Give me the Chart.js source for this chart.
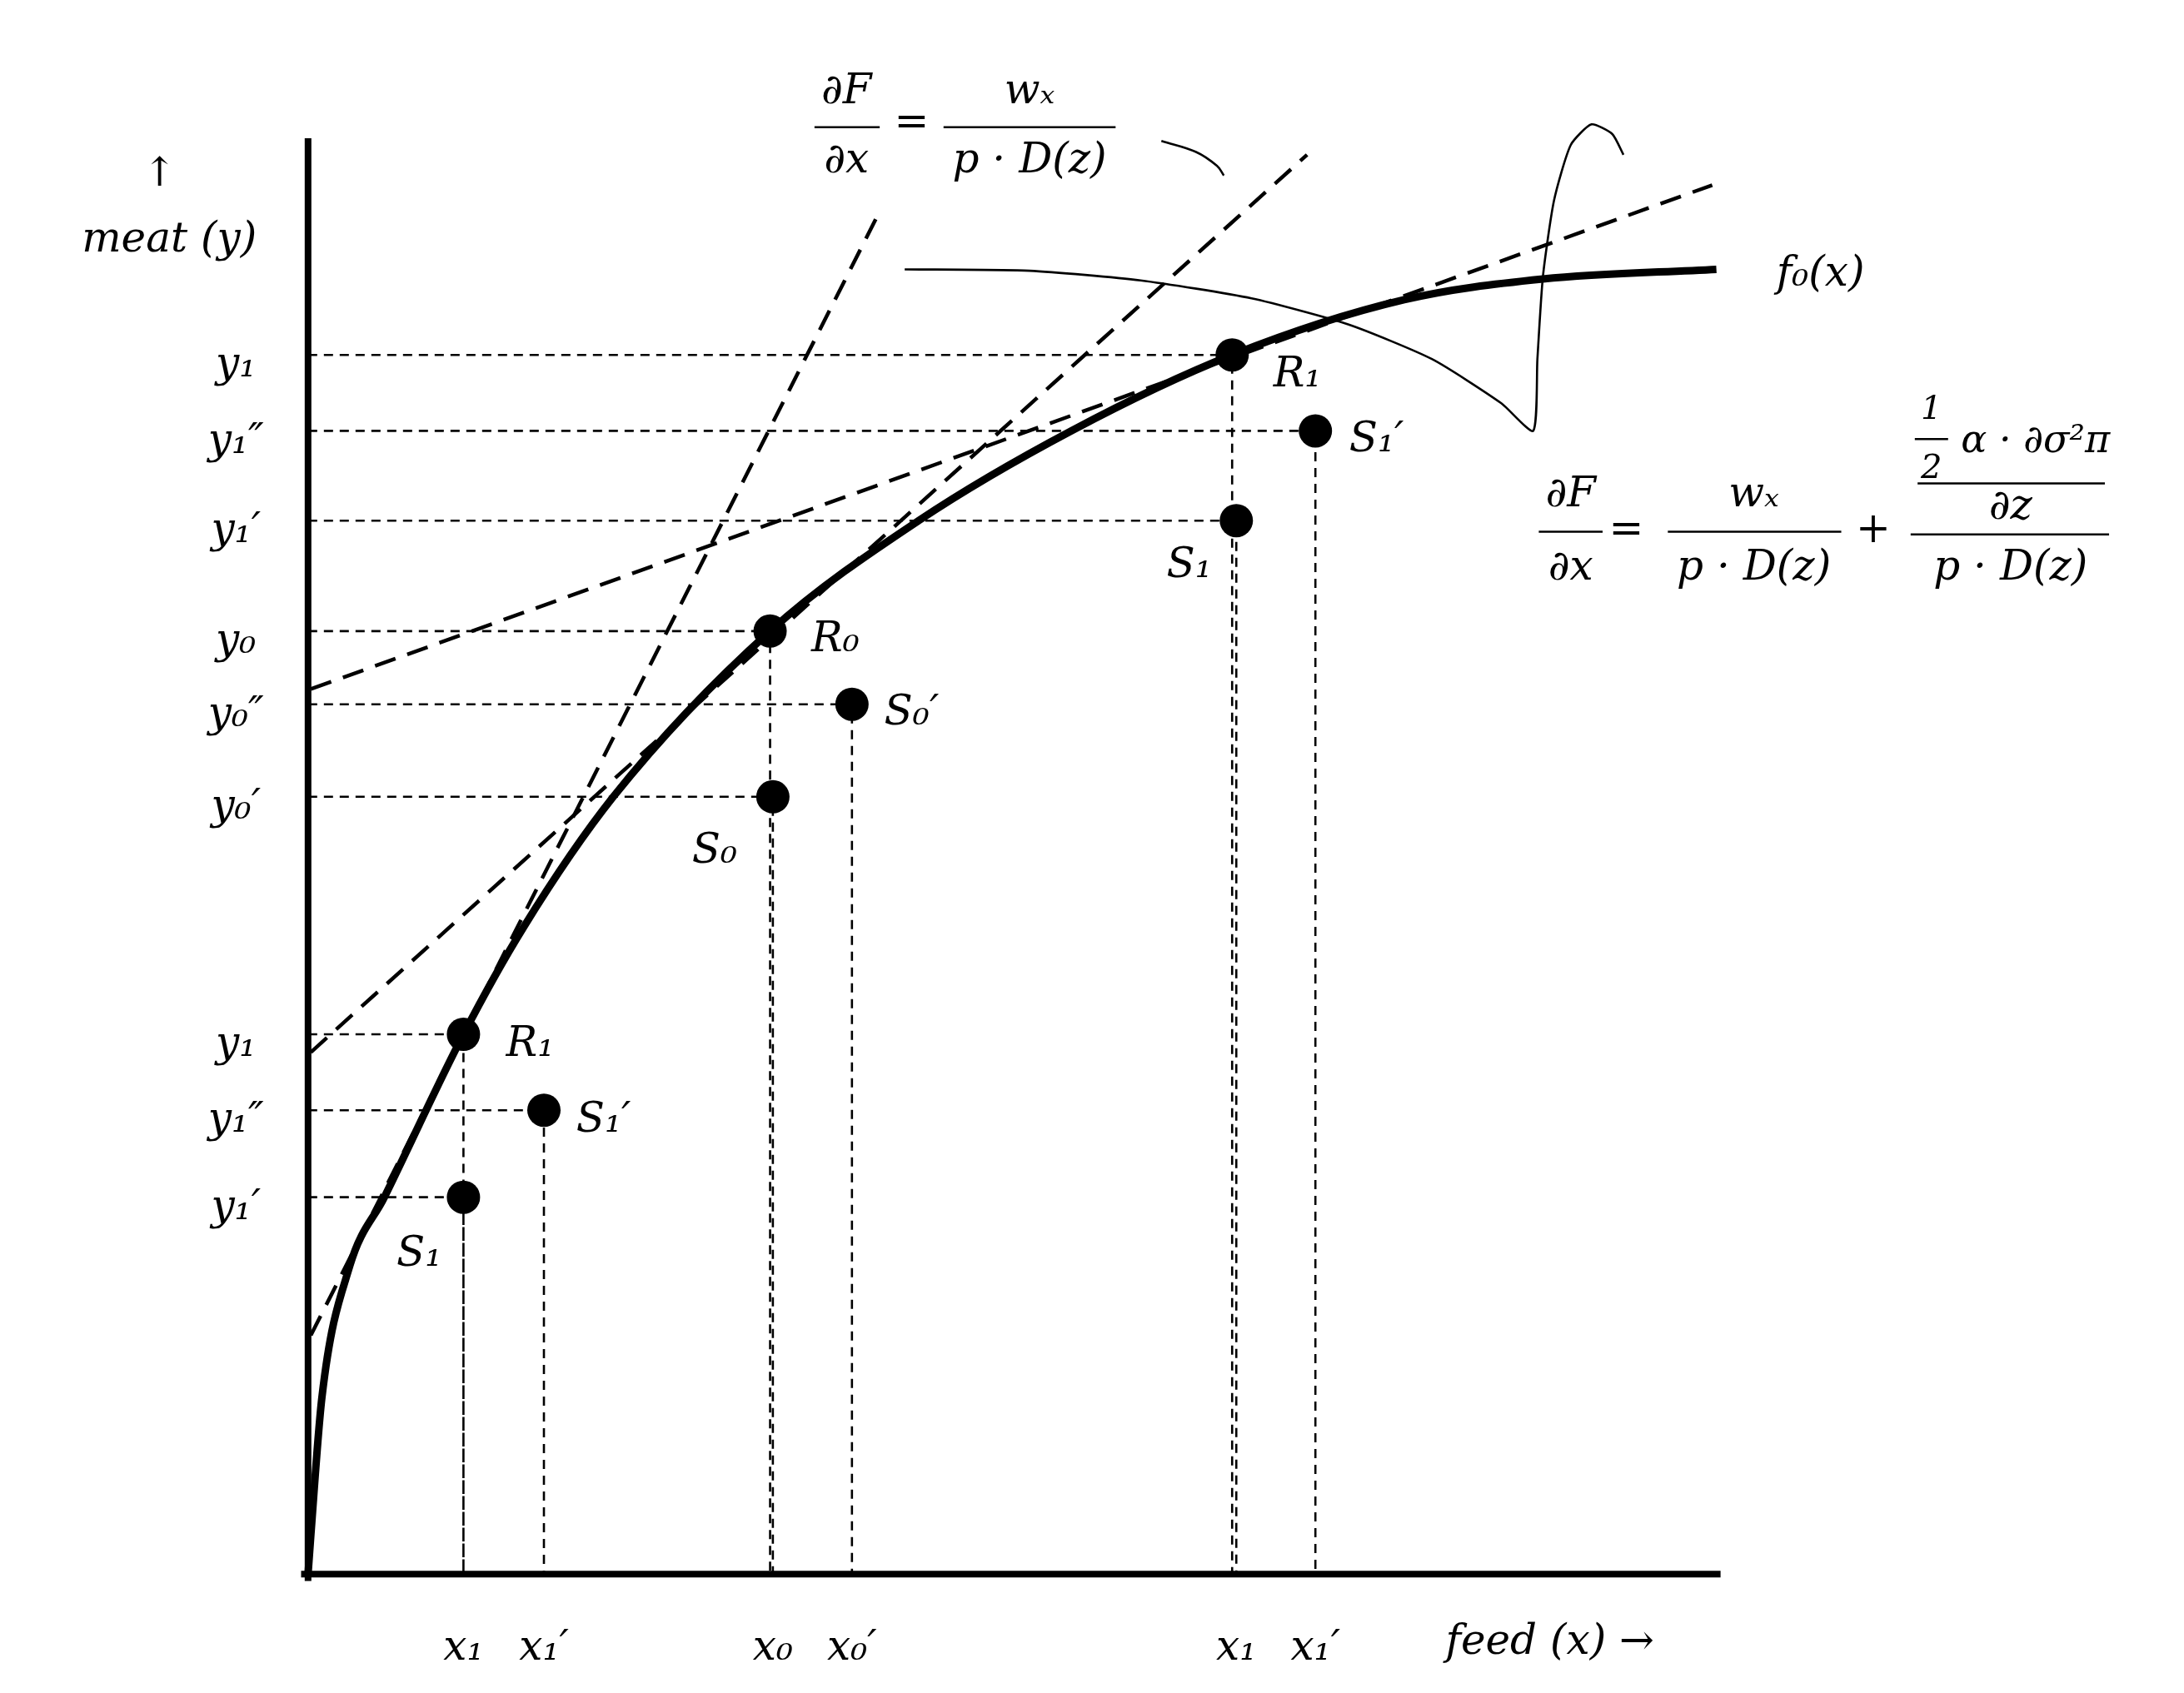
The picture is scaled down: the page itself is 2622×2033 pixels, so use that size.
<!DOCTYPE html>
<html><head><meta charset="utf-8">
<script src="https://cdn.jsdelivr.net/npm/chart.js@4"></script>
<style>html,body{margin:0;background:#fff}#wrap{width:2622px;height:2033px}</style>
</head><body><div id="wrap"><canvas id="c"></canvas></div>
<script>
// --------- данные (единицы: x вправо от оси, y вверх от оси) ---------
const curveX=[0,2,10,30,55,112,155,220,333,440,550,666,790,890,1015];
const curveY=[0,28,128,223,273,391,468,563,683,763,828,883,923,938,945];
const tangents=[[[2,173],[410,983]],[[2,378],[720,1028]],[[2,641],[1012,1006]]];
const ptX=[112,170,112,333,392,335,666,726,669];
const ptY=[391,336,273,683,630,563,883,828,763];
const ptLbl=['R₁','S₁′','S₁','R₀','S₀′','S₀','R₁','S₁′','S₁'];
const ptLblPos=[[160,383],[213,328],[80,231],[380,676],[435,623],[293,523],[713,868],[770,821],[635,730]];
const yTicks=[883,828,763,683,630,563,391,336,273];
const yTickLbl=['y₁','y₁″','y₁′','y₀','y₀″','y₀′','y₁','y₁″','y₁′'];
const xTicks=[112,170,335,392,669,726];
const xTickLbl=['x₁','x₁′','x₀','x₀′','x₁','x₁′'];
const thinX=[430,520,600,680,750,810,860,883,886,890,898,910,925,940,948];
const thinY=[945,944,937,924,905,880,848,828,880,940,995,1035,1050,1043,1028];
const arcX=[615,640,655,660], arcY=[1038,1030,1020,1013];

// --------- сборка датасетов ---------
const guides=[];
for(let i=0;i<ptX.length;i++){
  guides.push({x:0,y:ptY[i]},{x:ptX[i],y:ptY[i]},{x:ptX[i],y:0},{x:NaN,y:NaN});
}
const line=(pts,w,dash)=>({data:pts,showLine:true,borderColor:'#000',borderWidth:w,borderDash:dash||[],pointRadius:0,fill:false,spanGaps:false});
const ds=[
  line(guides,2.6,[11,8]),
  ...tangents.map(t=>line(t.map(p=>({x:p[0],y:p[1]})),4.5,[26,15])),
  Object.assign(line(curveX.map((x,i)=>({x,y:curveY[i]})),9),{cubicInterpolationMode:'monotone'}),
  Object.assign(line(thinX.map((x,i)=>({x,y:thinY[i]})),2.6),{tension:0.2}),
  Object.assign(line(arcX.map((x,i)=>({x,y:arcY[i]})),2.6),{tension:0.4}),
  line([{x:0,y:1040},{x:0,y:-5}],8),
  line([{x:-5,y:0},{x:1018,y:0}],8),
  {data:ptX.map((x,i)=>({x,y:ptY[i]})),pointRadius:20,pointBackgroundColor:'#000',pointBorderWidth:0}
];

// --------- текст ---------
const textPlugin={id:'txt',afterDraw(ch){
  const c=ch.ctx,sx=ch.scales.x,sy=ch.scales.y;
  const P=(x,y)=>[sx.getPixelForValue(x),sy.getPixelForValue(y)];
  const T=(s,x,y,sz,al)=>{const p=P(x,y);c.font='italic '+(sz||50)+'px "DejaVu Serif"';c.textAlign=al||'center';c.textBaseline='middle';c.fillStyle='#000';c.fillText(s,p[0],p[1]);};
  const H=(x1,x2,y)=>{const a=P(x1,y),b=P(x2,y);c.beginPath();c.lineWidth=2.5;c.strokeStyle='#000';c.moveTo(a[0],a[1]);c.lineTo(b[0],b[1]);c.stroke();};
  T('↑',-107,1013,48);T('meat (y)',-100,966);
  yTicks.forEach((v,i)=>T(yTickLbl[i],-52,v-8));
  xTicks.forEach((v,i)=>T(xTickLbl[i],v,-54));
  T('feed (x) →',895,-50);
  ptLbl.forEach((s,i)=>T(s,ptLblPos[i][0],ptLblPos[i][1]));
  T('f₀(x)',1090,941);
  // формула 1
  T('∂F',388,1073);H(365,412,1048);T('∂x',388,1023);T('=',435,1050);
  T('wₓ',520,1073);H(458,582,1048);T('p · D(z)',520,1023);
  // формула 2
  T('∂F',910,781);H(887,933,755);T('∂x',910,728);T('=',950,755);
  T('wₓ',1042,781);H(980,1105,755);T('p · D(z)',1042,728);T('+',1128,755);
  T('1',1170,843,40);H(1158,1182,822);T('2',1170,800,40);
  T('α · ∂σ²π',1245,820,46,'center');
  H(1160,1295,790);T('∂z',1227,772);
  H(1155,1298,753);T('p · D(z)',1227,728);
}};

new Chart(document.getElementById('c'),{
  type:'scatter',
  data:{datasets:ds},
  options:{responsive:true,maintainAspectRatio:false,animation:false,layout:{padding:0},
    plugins:{legend:{display:false},tooltip:{enabled:false}},
    datasets:{scatter:{clip:false}},
    scales:{x:{type:'linear',min:-210,max:1340,display:false},y:{type:'linear',min:-74,max:1128,display:false}}},
  plugins:[textPlugin]
});
</script></body></html>
